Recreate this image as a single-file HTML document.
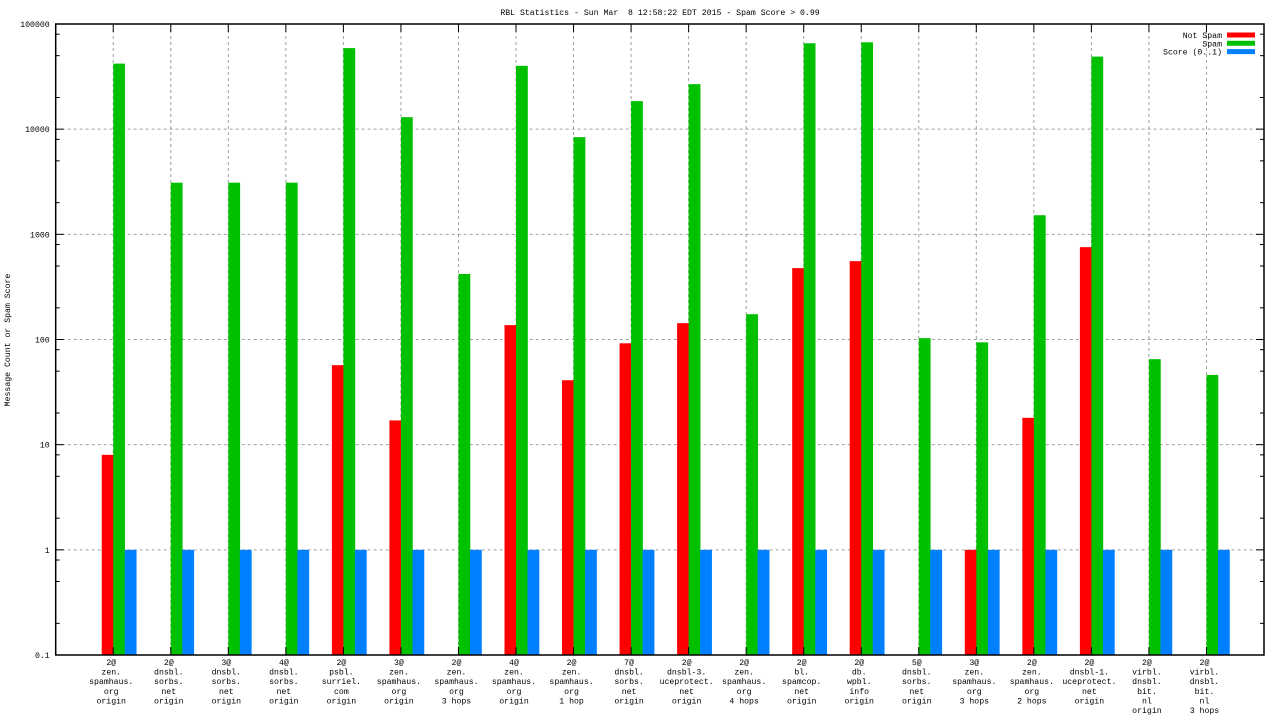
<!DOCTYPE html>
<html><head><meta charset="utf-8"><style>
html,body{margin:0;padding:0;background:#fff;}
svg{display:block;font-family:"Liberation Mono","DejaVu Sans Mono",monospace;}
</style></head><body>
<svg id="chart" width="1280" height="720" xmlns="http://www.w3.org/2000/svg">
<text x="660" y="15" font-size="8.2" text-anchor="middle" style="white-space:pre">RBL Statistics - Sun Mar  8 12:58:22 EDT 2015 - Spam Score &gt; 0.99</text>
<text transform="translate(10,340) rotate(-90)" font-size="8.2" text-anchor="middle">Message Count or Spam Score</text>
<g id="grid"></g>
<g id="bars"></g>
<g id="axes"></g>
<g id="legend"></g>
</svg>
<script>
const categories = [
 ["2@","zen.","spamhaus.","org","origin"],
 ["2@","dnsbl.","sorbs.","net","origin"],
 ["3@","dnsbl.","sorbs.","net","origin"],
 ["4@","dnsbl.","sorbs.","net","origin"],
 ["2@","psbl.","surriel.","com","origin"],
 ["3@","zen.","spamhaus.","org","origin"],
 ["2@","zen.","spamhaus.","org","3 hops"],
 ["4@","zen.","spamhaus.","org","origin"],
 ["2@","zen.","spamhaus.","org","1 hop"],
 ["7@","dnsbl.","sorbs.","net","origin"],
 ["2@","dnsbl-3.","uceprotect.","net","origin"],
 ["2@","zen.","spamhaus.","org","4 hops"],
 ["2@","bl.","spamcop.","net","origin"],
 ["2@","db.","wpbl.","info","origin"],
 ["5@","dnsbl.","sorbs.","net","origin"],
 ["3@","zen.","spamhaus.","org","3 hops"],
 ["2@","zen.","spamhaus.","org","2 hops"],
 ["2@","dnsbl-1.","uceprotect.","net","origin"],
 ["2@","virbl.","dnsbl.","bit.","nl","origin"],
 ["2@","virbl.","dnsbl.","bit.","nl","3 hops"]
];
const notSpam = [8,null,null,null,57,17,null,137,41,92,143,null,477,556,null,1,18,755,null,null];
const spam = [42000,3100,3100,3100,59000,13000,420,40000,8400,18500,26800,174,65600,67000,103,94,1520,49000,65,46];
const score = [1,1,1,1,1,1,1,1,1,1,1,1,1,1,1,1,1,1,1,1];
const yTickLabels = ["0.1","1","10","100","1000","10000","100000"];
const yTickValues = [0.1,1,10,100,1000,10000,100000];
const seriesNames = ["Not Spam","Spam","Score (0..1)"];

const L=55.7,R=1264,T=24,B=655;
const NS="http://www.w3.org/2000/svg";
function y(v){return B-(Math.log10(v)+1)/6*(B-T);}
function x(i){return L+(i+1)*(R-L)/(categories.length+1);}
const unit=(R-L)/(categories.length+1), bw=unit*0.2;
function mk(tag,attrs,parent){const e=document.createElementNS(NS,tag);for(const k in attrs)e.setAttribute(k,attrs[k]);parent.appendChild(e);return e;}
const grid=document.getElementById('grid'),bars=document.getElementById('bars'),axes=document.getElementById('axes'),legend=document.getElementById('legend');
yTickValues.forEach((v,k)=>{
  const yy=y(v);
  if(k>0&&k<yTickValues.length-1){const g=mk('line',{x1:L,x2:R,y1:yy,y2:yy,stroke:'#a0a0a0','stroke-dasharray':'3,3','stroke-width':1},grid);
  
  }
  const t=mk('text',{x:L-6,y:yy+3,'font-size':8.2,'text-anchor':'end'},axes);t.textContent=yTickLabels[k];
  
  
  mk('line',{x1:L,x2:L+8,y1:yy,y2:yy,stroke:'#000'},axes);
  mk('line',{x1:R,x2:R-8,y1:yy,y2:yy,stroke:'#000'},axes);
  if(k<yTickValues.length-1){[2,5,8].forEach(m=>{const my=y(v*m);
    mk('line',{x1:L,x2:L+4,y1:my,y2:my,stroke:'#000'},axes);
    mk('line',{x1:R,x2:R-4,y1:my,y2:my,stroke:'#000'},axes);});}
});
categories.forEach((c,i)=>{
  const xx=x(i);
  const g=mk('line',{x1:xx,x2:xx,y1:T,y2:B,stroke:'#a0a0a0','stroke-dasharray':'3,3'},grid);
  
  
  mk('line',{x1:xx,x2:xx,y1:B,y2:B-8,stroke:'#000'},axes);
  mk('line',{x1:xx,x2:xx,y1:T,y2:T+8,stroke:'#000'},axes);
  const vals=[notSpam[i],spam[i],score[i]],cols=['#ff0000','#00c000','#0080ff'];
  vals.forEach((v,s)=>{ if(v==null)return;
    const r=mk('rect',{x:xx+(s-1)*bw,y:y(v),width:bw+0.3,height:B-y(v),fill:cols[s]},bars);
    
    
  });
  const t=mk('text',{x:xx-2,y:665,'font-size':8.2,'text-anchor':'middle'},axes);
  
  
  c.forEach((ln,j)=>{const sp=mk('tspan',{x:xx-2,dy:j?9.6:0},t);sp.textContent=ln;});
});
const fr=mk('rect',{x:L,y:T,width:R-L,height:B-T,fill:'none',stroke:'#000','stroke-width':1.5},axes);


seriesNames.forEach((n,s)=>{
  const ly=35+s*8.3;
  const t=mk('text',{x:1222,y:ly+3,'font-size':8.2,'text-anchor':'end'},legend);t.textContent=n;
  
  
  const r=mk('rect',{x:1227,y:ly-2.5,width:28,height:5,fill:['#ff0000','#00c000','#0080ff'][s]},legend);
  
  
});
</script>
</body></html>
